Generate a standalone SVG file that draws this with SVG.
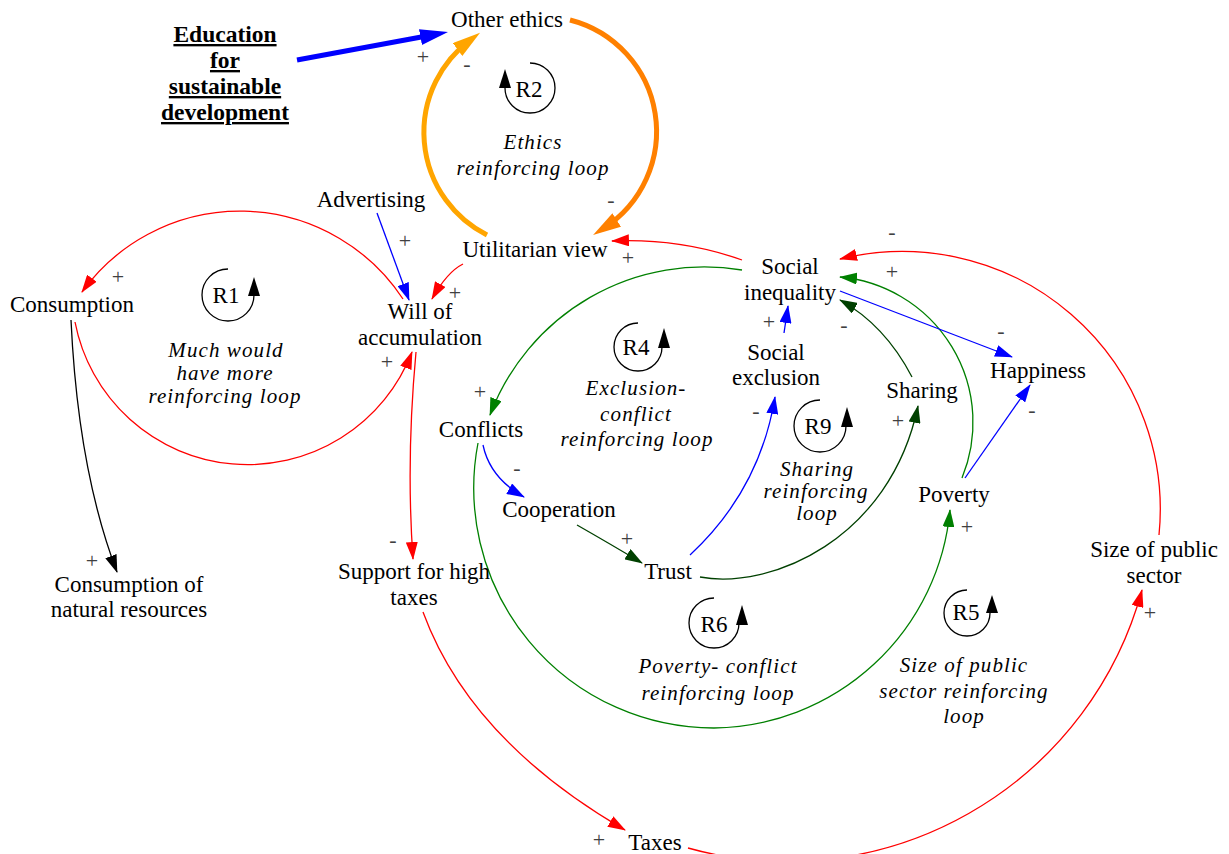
<svg xmlns="http://www.w3.org/2000/svg" width="1229" height="854" viewBox="0 0 1229 854">
<style>
.n{font-family:"Liberation Serif","Times New Roman",serif;font-size:23px;fill:#000;text-anchor:middle}
.b{font-weight:bold;text-decoration:underline;font-size:23.5px}
.l{font-family:"Liberation Serif","Times New Roman",serif;font-style:italic;font-size:21px;letter-spacing:1.1px;fill:#000;text-anchor:middle}
.p{font-family:"Liberation Serif","Times New Roman",serif;font-size:22px;fill:#404040;text-anchor:middle}
.c{fill:none;stroke-width:1.3}
.r{stroke:#f00;marker-end:url(#aR)}
.u{stroke:#00f;marker-end:url(#aB)}
.g{stroke:#008000;marker-end:url(#aG)}
.d{stroke:#004000;marker-end:url(#aD)}
.k{stroke:#000;marker-end:url(#aK)}
.ls{fill:none;stroke:#000;stroke-width:1.3}
</style>
<defs>
<marker id="aR" viewBox="0 0 18 12" markerWidth="18" markerHeight="12" refX="17" refY="6" orient="auto" markerUnits="userSpaceOnUse"><path d="M0,0 L18,6 L0,12 z" fill="#f00"/></marker>
<marker id="aB" viewBox="0 0 18 12" markerWidth="18" markerHeight="12" refX="17" refY="6" orient="auto" markerUnits="userSpaceOnUse"><path d="M0,0 L18,6 L0,12 z" fill="#00f"/></marker>
<marker id="aG" viewBox="0 0 18 12" markerWidth="18" markerHeight="12" refX="17" refY="6" orient="auto" markerUnits="userSpaceOnUse"><path d="M0,0 L18,6 L0,12 z" fill="#008000"/></marker>
<marker id="aD" viewBox="0 0 18 12" markerWidth="18" markerHeight="12" refX="17" refY="6" orient="auto" markerUnits="userSpaceOnUse"><path d="M0,0 L18,6 L0,12 z" fill="#004000"/></marker>
<marker id="aK" viewBox="0 0 18 12" markerWidth="18" markerHeight="12" refX="17" refY="6" orient="auto" markerUnits="userSpaceOnUse"><path d="M0,0 L18,6 L0,12 z" fill="#000"/></marker>
<marker id="tB" viewBox="0 0 28 16" markerWidth="28" markerHeight="16" refX="16" refY="8" orient="auto" markerUnits="userSpaceOnUse"><path d="M0,0 L28,8 L0,16 z" fill="#00f"/></marker>
<marker id="tO1" viewBox="0 0 28 16" markerWidth="28" markerHeight="16" refX="16" refY="8" orient="auto" markerUnits="userSpaceOnUse"><path d="M0,0 L28,8 L0,16 z" fill="#FFA500"/></marker>
<marker id="tO2" viewBox="0 0 28 16" markerWidth="28" markerHeight="16" refX="16" refY="8" orient="auto" markerUnits="userSpaceOnUse"><path d="M0,0 L28,8 L0,16 z" fill="#FF8000"/></marker>
</defs>
<rect width="1229" height="854" fill="#fff"/>

<g id="connectors">
<path id="c1" d="M297,60 L436.2,34.2" fill="none" stroke="#00f" stroke-width="5" marker-end="url(#tB)"/>
<path id="c2" d="M487,235 A115,115 0 0 1 470.4,40" fill="none" stroke="#FFA500" stroke-width="5" marker-end="url(#tO1)"/>
<path id="c3" d="M570,20 A115,115 0 0 1 603.2,228.5" fill="none" stroke="#FF8000" stroke-width="5" marker-end="url(#tO2)"/>
<path id="c4" class="c r" d="M742,260 Q680,238 612,241"/>
<path id="c5" class="c r" d="M463,264 Q447,272 432,299"/>
<path id="c6" class="c u" d="M377,213 L409,300"/>
<path id="c7" class="c r" d="M403,299 A195,195 0 0 0 82,292"/>
<path id="c8" class="c r" d="M75,322 A176,176 0 0 0 412,352"/>
<path id="c9" class="c k" d="M71,320 Q78,470 117,572"/>
<path id="c10" class="c r" d="M416,352 Q406,460 413,559"/>
<path id="c11" class="c r" d="M423,612 Q470,740 625,830"/>
<path id="c12" class="c r" d="M688,848 A368,368 0 0 0 1142,590"/>
<path id="c13" class="c r" d="M1159,535 A258,258 0 0 0 840,259"/>
<path id="c14" class="c g" d="M742,270 A229,229 0 0 0 490,415"/>
<path id="c15" class="c g" d="M478,443 A240,240 0 0 0 714,728 A240,240 0 0 0 950,510"/>
<path id="c16" class="c g" d="M962,478 A146,146 0 0 0 840,277"/>
<path id="c17" class="c u" d="M840,291 L1012,357"/>
<path id="c18" class="c u" d="M965,478 L1030,385"/>
<path id="c19" class="c d" d="M912,377 Q885,325 840,300"/>
<path id="c20" class="c u" d="M784,333 L788,306"/>
<path id="c21" class="c u" d="M690,555 Q760,490 775,397"/>
<path id="c22" class="c d" d="M700,577 C770,590 890,540 918,406"/>
<path id="c23" class="c u" d="M483,445 Q490,478 524,497"/>
<path id="c24" class="c d" d="M577,525 Q612,545 642,563"/>
<g id="polarities">
<text class="p" x="423" y="64">+</text>
<text class="p" x="467" y="71">-</text>
<text class="p" x="611" y="207">-</text>
<text class="p" x="405" y="248">+</text>
<text class="p" x="628" y="265">+</text>
<text class="p" x="455" y="300">+</text>
<text class="p" x="118" y="284">+</text>
<text class="p" x="387" y="369">+</text>
<text class="p" x="480" y="399">+</text>
<text class="p" x="517" y="475">-</text>
<text class="p" x="627" y="546">+</text>
<text class="p" x="769" y="329">+</text>
<text class="p" x="844" y="332">-</text>
<text class="p" x="892" y="279">+</text>
<text class="p" x="892" y="239">-</text>
<text class="p" x="1001" y="338">-</text>
<text class="p" x="1032" y="417">-</text>
<text class="p" x="756" y="418">-</text>
<text class="p" x="898" y="428">+</text>
<text class="p" x="967" y="534">+</text>
<text class="p" x="393" y="547">-</text>
<text class="p" x="92" y="568">+</text>
<text class="p" x="599" y="847">+</text>
<text class="p" x="1150" y="620">+</text>
</g>
</g>

<g id="education"><text class="n b"><tspan x="225" y="42">Education</tspan><tspan x="225" y="68">for</tspan><tspan x="225" y="94">sustainable</tspan><tspan x="225" y="120">development</tspan></text></g>
<g id="other-ethics"><text class="n" x="507" y="27">Other ethics</text></g>
<g id="advertising"><text class="n" x="371" y="207">Advertising</text></g>
<g id="utilitarian-view"><text class="n" x="535" y="257">Utilitarian view</text></g>
<g id="consumption"><text class="n" x="72" y="312">Consumption</text></g>
<g id="will-of-accumulation"><text class="n"><tspan x="420" y="319">Will of</tspan><tspan x="420" y="345">accumulation</tspan></text></g>
<g id="social-inequality"><text class="n"><tspan x="790" y="274">Social</tspan><tspan x="790" y="300">inequality</tspan></text></g>
<g id="social-exclusion"><text class="n"><tspan x="776" y="360">Social</tspan><tspan x="776" y="385">exclusion</tspan></text></g>
<g id="sharing"><text class="n" x="922" y="398">Sharing</text></g>
<g id="happiness"><text class="n" x="1038" y="378">Happiness</text></g>
<g id="conflicts"><text class="n" x="481" y="437">Conflicts</text></g>
<g id="cooperation"><text class="n" x="559" y="517">Cooperation</text></g>
<g id="poverty"><text class="n" x="954" y="502">Poverty</text></g>
<g id="trust"><text class="n" x="668" y="579">Trust</text></g>
<g id="support-for-high-taxes"><text class="n"><tspan x="414" y="579">Support for high</tspan><tspan x="414" y="605">taxes</tspan></text></g>
<g id="consumption-natural-resources"><text class="n"><tspan x="129" y="592">Consumption of</tspan><tspan x="129" y="617">natural resources</tspan></text></g>
<g id="size-of-public-sector"><text class="n"><tspan x="1154" y="557">Size of public</tspan><tspan x="1154" y="583">sector</tspan></text></g>
<g id="taxes"><text class="n" x="655" y="850">Taxes</text></g>

<g id="loop-R1">
<path class="ls" d="M228,269 A26,26 0 1 0 254,295"/>
<polygon points="254,277 248,296 260,296" fill="#000"/>
<text class="n" x="226" y="303">R1</text>
<text class="l"><tspan x="226" y="357">Much would</tspan><tspan x="225" y="380">have more</tspan><tspan x="225" y="403">reinforcing loop</tspan></text>
</g>
<g id="loop-R2">
<path class="ls" d="M530,63 A25,25 0 1 1 505,88"/>
<polygon points="505,69 499,88 511,88" fill="#000"/>
<text class="n" x="529" y="97">R2</text>
<text class="l"><tspan x="533" y="149">Ethics</tspan><tspan x="533" y="175">reinforcing loop</tspan></text>
</g>
<g id="loop-R4">
<path class="ls" d="M638,323 A24,24 0 1 0 662,347"/>
<polygon points="664,328 658,348 670,348" fill="#000"/>
<text class="n" x="636" y="355">R4</text>
<text class="l"><tspan x="636" y="395">Exclusion-</tspan><tspan x="636" y="421">conflict</tspan><tspan x="637" y="446">reinforcing loop</tspan></text>
</g>
<g id="loop-R9">
<path class="ls" d="M820,400 A26,26 0 1 0 846,426"/>
<polygon points="847,407 841,427 853,427" fill="#000"/>
<text class="n" x="818" y="434">R9</text>
<text class="l"><tspan x="817" y="476">Sharing</tspan><tspan x="816" y="498">reinforcing</tspan><tspan x="817" y="520">loop</tspan></text>
</g>
<g id="loop-R6">
<path class="ls" d="M714,598 A25,25 0 1 0 739,623"/>
<polygon points="742,605 736,625 748,625" fill="#000"/>
<text class="n" x="714" y="632">R6</text>
<text class="l"><tspan x="718" y="673">Poverty- conflict</tspan><tspan x="718" y="700">reinforcing loop</tspan></text>
</g>
<g id="loop-R5">
<path class="ls" d="M967,590 A23,23 0 1 0 990,613"/>
<polygon points="992,595 986,613 998,613" fill="#000"/>
<text class="n" x="966" y="620">R5</text>
<text class="l"><tspan x="964" y="672">Size of public</tspan><tspan x="964" y="698">sector reinforcing</tspan><tspan x="964" y="723">loop</tspan></text>
</g>
</svg>
